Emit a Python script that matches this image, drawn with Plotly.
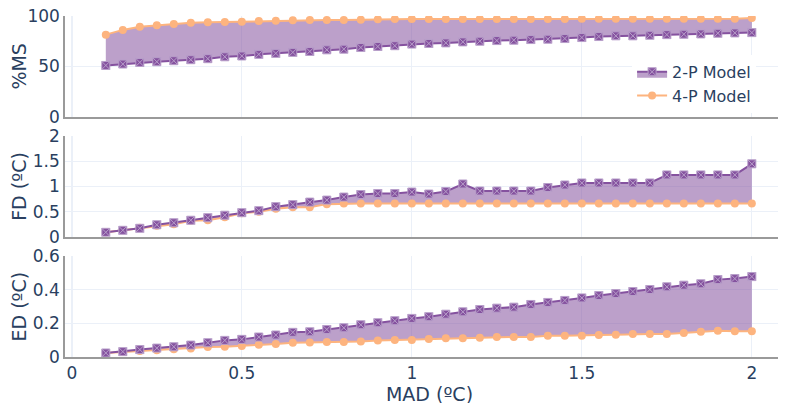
import plotly.graph_objects as go
from plotly.subplots import make_subplots

mad = [0.1, 0.15, 0.2, 0.25, 0.3, 0.35, 0.4, 0.45, 0.5, 0.55, 0.6, 0.65, 0.7, 0.75,
       0.8, 0.85, 0.9, 0.95, 1.0, 1.05, 1.1, 1.15, 1.2, 1.25, 1.3, 1.35, 1.4, 1.45,
       1.5, 1.55, 1.6, 1.65, 1.7, 1.75, 1.8, 1.85, 1.9, 1.95, 2.0]

ms_2p = [50.9, 52.3, 53.9, 54.6, 55.6, 56.6, 57.6, 59.5, 60.3, 61.9, 62.9, 63.9, 64.8,
         66.4, 67.1, 68.7, 69.7, 70.5, 72.1, 72.7, 73.3, 74.3, 75.0, 75.6, 76.0, 76.6,
         77.0, 77.6, 78.6, 79.6, 80.3, 80.3, 80.9, 81.5, 81.9, 82.2, 82.9, 83.2, 83.5]
ms_4p = [81.5, 86.2, 89.4, 90.8, 92.1, 93.4, 93.7, 94.1, 94.4, 95.1, 95.4, 95.7, 96.0,
         96.0, 96.0, 96.4, 96.7, 96.9, 97.0, 97.0, 97.0, 97.0, 97.0, 97.0, 97.0, 97.0,
         97.1, 97.1, 97.2, 97.2, 97.2, 97.2, 97.2, 97.2, 97.2, 97.2, 97.3, 97.3, 98.0]

fd_2p = [0.09, 0.13, 0.17, 0.24, 0.28, 0.33, 0.38, 0.43, 0.48, 0.52, 0.60, 0.64, 0.69,
         0.73, 0.79, 0.84, 0.86, 0.86, 0.89, 0.85, 0.90, 1.05, 0.91, 0.91, 0.91, 0.91,
         0.98, 1.03, 1.07, 1.07, 1.07, 1.07, 1.07, 1.23, 1.23, 1.23, 1.23, 1.23, 1.45]
fd_4p = [0.09, 0.13, 0.18, 0.22, 0.25, 0.32, 0.33, 0.39, 0.47, 0.50, 0.56, 0.59, 0.59,
         0.65, 0.66, 0.66, 0.66, 0.66, 0.66, 0.66, 0.66, 0.66, 0.66, 0.66, 0.66, 0.66,
         0.66, 0.66, 0.66, 0.66, 0.66, 0.66, 0.66, 0.66, 0.66, 0.66, 0.66, 0.66, 0.66]

ed_2p = [0.024, 0.032, 0.044, 0.053, 0.061, 0.071, 0.085, 0.099, 0.105, 0.119, 0.131,
         0.147, 0.150, 0.164, 0.174, 0.192, 0.204, 0.216, 0.230, 0.240, 0.255, 0.269,
         0.283, 0.291, 0.297, 0.313, 0.325, 0.337, 0.352, 0.366, 0.378, 0.390, 0.402,
         0.418, 0.428, 0.436, 0.461, 0.467, 0.479]
ed_4p = [0.024, 0.030, 0.036, 0.040, 0.046, 0.051, 0.059, 0.061, 0.065, 0.073, 0.077,
         0.085, 0.087, 0.089, 0.089, 0.093, 0.099, 0.102, 0.101, 0.107, 0.111, 0.111,
         0.115, 0.119, 0.119, 0.119, 0.127, 0.127, 0.127, 0.131, 0.133, 0.137, 0.137,
         0.137, 0.143, 0.150, 0.156, 0.154, 0.154]

y_titles = ["%MS", "FD (ºC)", "ED (ºC)"]
y_ranges = [[0, 100], [0, 2], [0, 0.6]]
y_dticks = [50, 0.5, 0.2]

PURPLE = "#85529f"
PURPLE_FILL = "rgba(133,82,159,0.55)"
ORANGE = "#fdb47f"
FONT = "DejaVu Sans"

fig = make_subplots(rows=3, cols=1, shared_xaxes=True, vertical_spacing=0.057)

series = [(ms_2p, ms_4p), (fd_2p, fd_4p), (ed_2p, ed_4p)]
for i, (two, four) in enumerate(series):
    row = i + 1
    fig.add_trace(go.Scatter(
        x=mad, y=four, name="4-P Model", mode="lines+markers",
        line=dict(color=ORANGE, width=2),
        marker=dict(color=ORANGE, size=8, symbol="circle"),
        showlegend=(i == 0)), row=row, col=1)
    fig.add_trace(go.Scatter(
        x=mad, y=two, name="2-P Model", mode="lines+markers",
        fill="tonexty", fillcolor=PURPLE_FILL,
        line=dict(color=PURPLE, width=2),
        marker=dict(color=PURPLE, size=8, symbol="square-x",
                    line=dict(color="#b89fca", width=1)),
        showlegend=(i == 0)), row=row, col=1)

for i in range(3):
    row = i + 1
    fig.update_yaxes(title_text=y_titles[i], range=y_ranges[i], dtick=y_dticks[i],
                     showline=True, linecolor="#9a9a9a", linewidth=1.5,
                     gridcolor="#EBF0F8", zeroline=False, automargin=False,
                     title_font=dict(size=19), tickfont=dict(size=17),
                     title_standoff=8, ticklabeloverflow="allow",
                     row=row, col=1)
    fig.update_xaxes(range=[-0.02, 2.124], dtick=0.5, showline=True, linecolor="#9a9a9a",
                     linewidth=1.5, gridcolor="#EBF0F8", zerolinecolor="#EBF0F8",
                     tickfont=dict(size=17), automargin=False,
                     ticklabeloverflow="allow", row=row, col=1)

fig.update_xaxes(title_text="MAD (ºC)", title_font=dict(size=19), title_standoff=1,
                 row=3, col=1)

fig.update_layout(
    template="plotly_white",
    width=786, height=403,
    margin=dict(l=57, r=0, t=8, b=54),
    font=dict(family=FONT, color="#2a3f5f"),
    legend=dict(x=0.948, y=0.886, xanchor="right", yanchor="top",
                traceorder="reversed", tracegroupgap=0,
                font=dict(size=16), bgcolor="rgba(255,255,255,1)"),
)

fig.write_html("out.html")
